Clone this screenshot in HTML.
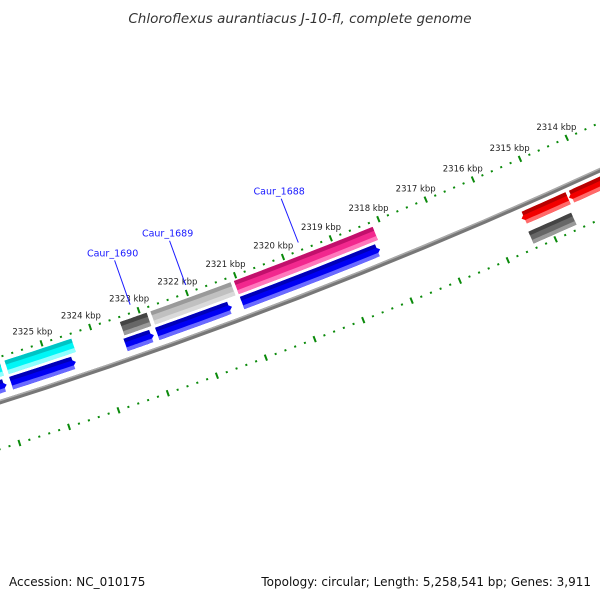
<!DOCTYPE html>
<html><head><meta charset="utf-8">
<style>
html,body{margin:0;padding:0;background:#fff;}
svg{display:block;font-family:"DejaVu Sans","Liberation Sans",sans-serif;}
</style></head>
<body>
<svg id="map" width="600" height="600" viewBox="0 0 600 600" xmlns="http://www.w3.org/2000/svg">
<rect width="600" height="600" fill="#fff"/>
<text x="300" y="23" text-anchor="middle" font-size="13.5" font-style="italic" fill="#333">Chloroflexus aurantiacus J-10-fl, complete genome</text>
<g id="layer"></g>
<text x="9" y="586" font-size="12" fill="#111">Accession: NC_010175</text>
<text x="591" y="586" text-anchor="end" font-size="12" fill="#111">Topology: circular; Length: 5,258,541 bp; Genes: 3,911</text>
</svg>
<script>
// data (kbp)
const tickKbp = [2312,2313,2314,2315,2316,2317,2318,2319,2320,2321,2322,2323,2324,2325,2326,2327,2328];
const labelKbp = [2314,2315,2316,2317,2318,2319,2320,2321,2322,2323,2324,2325];
const featName = ['pink','blue-b','lightgrey','blue-c','darkgrey','blue-d','cyan-b','blue-e','blue-f','red-a','red-b','grey-r'];
const featStart = [2318.16,2321.27,2321.13,2322.88,2322.87,2324.48,2324.42,2325.89,2325.89,2314.46,2312.5,2314.52];
const featEnd   = [2321.06,2322.81,2322.79,2323.46,2323.42,2325.80,2325.79,2328.5,2328.5,2315.44,2314.44,2315.42];
const featRow = [1,0,1,0,1,0,1,1,0,2,2,3];
const featArrow = [0,1,0,1,0,1,0,0,1,-1,-1,0];
const featColor = ['pink','blue','lightgrey','blue','darkgrey','blue','cyan','cyan','blue','red','red','darkgrey'];
const blueMainStart = [2318.19];
const blueMainEnd = [2321.06];
const geneLabels = ['Caur_1688','Caur_1689','Caur_1690'];
const geneLabelKbp = [2319.62,2321.97,2323.12];

// geometry
const R = 5200, PX_PER_KBP = 51.3, REF_KBP = 2320;
const T0 = [283,257], tv = [0.9331,-0.3597], nv = [0.3597,0.9331];
const C = [T0[0]-R*nv[0], T0[1]-R*nv[1]];
function uOf(k){return (REF_KBP-k)*PX_PER_KBP;}
function P(u,v){const f=u/R, r=R+v, c=Math.cos(f), s=Math.sin(f);
  return [C[0]+r*(nv[0]*c+tv[0]*s), C[1]+r*(nv[1]*c+tv[1]*s)];}
const rows = [[22,35],[5,19],[49,62],[70,83]];
const pal = {
 blue:['#0000b8','#0000f4','#6a6aff'], pink:['#c2106c','#f2288e','#ff78bc'],
 cyan:['#00c4c4','#00f6f6','#90ffff'], lightgrey:['#9a9a9a','#c0c0c0','#dadada'],
 darkgrey:['#444','#676767','#9a9a9a'], red:['#b80000','#f20000','#ff6a6a']
};
const NS='http://www.w3.org/2000/svg', layer=document.getElementById('layer');
function mk(tag,attrs){const e=document.createElementNS(NS,tag);for(const k in attrs)e.setAttribute(k,attrs[k]);layer.appendChild(e);return e;}
function arcPts(u0,u1,v){const pts=[],n=12;for(let i=0;i<=n;i++){pts.push(P(u0+(u1-u0)*i/n,v));}return pts;}
function band(u0,u1,v0,v1,dir,headLen){
  let a=u0,b=u1,pts=[];
  const vm=(v0+v1)/2;
  if(dir===1){ b=u1-headLen; pts=pts.concat(arcPts(a,b,v0)); pts.push(P(u1,vm)); pts=pts.concat(arcPts(b,a,v1)); }
  else if(dir===-1){ a=u0+headLen; pts=pts.concat(arcPts(a,b,v0)); pts=pts.concat(arcPts(b,a,v1)); pts.push(P(u0,vm)); }
  else { pts=pts.concat(arcPts(a,b,v0)); pts=pts.concat(arcPts(b,a,v1)); }
  return pts.map(p=>p[0].toFixed(1)+','+p[1].toFixed(1)).join(' ');
}
function strip(u0,u1,v0,v1,dir,headLen,full0,full1){
  const vm=(full0+full1)/2;
  let a=u0,b=u1;
  const frac=v=>1-Math.abs(v-vm)/((full1-full0)/2);
  if(dir===1){ b=u1-headLen*(1-Math.max(frac(v0),frac(v1))); }
  if(dir===-1){ a=u0+headLen*(1-Math.max(frac(v0),frac(v1))); }
  return band(a,b,v0,v1,0,0);
}

// backbone
const bb = mk('polygon',{points:band(-400,400,41,45.5,0,0),fill:'#777'});


const bb2 = mk('polygon',{points:band(-400,400,41,42.5,0,0),fill:'#aaa'});



// ticks on both rings
[0,88].forEach((rv,ri)=>{
  tickKbp.forEach(k=>{
    for(let m=0;m<5;m++){
      const kk=k+m*0.2, u=uOf(kk);
      const major=(m===0), h=major?3.2:1;
      const p0=P(u,rv-h), p1=P(u,rv+h);
      const ln=mk('line',{x1:p0[0],y1:p0[1],x2:p1[0],y2:p1[1],stroke:'#0a8a0a','stroke-width':2});
      
      
    }
  });
});
labelKbp.forEach(k=>{
  const p=P(uOf(k)-5,-14);
  const t=mk('text',{x:p[0].toFixed(1),y:(p[1]+3).toFixed(1),'text-anchor':'middle','font-size':'8.5',fill:'#222'});
  t.textContent=k+' kbp';
  
  
});

function drawFeature(nm,ks,ke,row,dir,col){
  const u0=Math.min(uOf(ks),uOf(ke)), u1=Math.max(uOf(ks),uOf(ke));
  if(u1-u0<1)return;
  const r=rows[row], c=pal[col], hl=7;
  const g=document.createElementNS(NS,'g');
  layer.appendChild(g);
  
  
  const main=document.createElementNS(NS,'polygon');
  main.setAttribute('points',band(u0,u1,r[0],r[1],dir,hl)); main.setAttribute('fill',c[1]); g.appendChild(main);
  const h=r[1]-r[0];
  const top=document.createElementNS(NS,'polygon');
  top.setAttribute('points',strip(u0,u1,r[0],r[0]+h*0.3,dir,hl,r[0],r[1])); top.setAttribute('fill',c[0]); g.appendChild(top);
  const bot=document.createElementNS(NS,'polygon');
  bot.setAttribute('points',strip(u0,u1,r[1]-h*0.3,r[1],dir,hl,r[0],r[1])); bot.setAttribute('fill',c[2]); g.appendChild(bot);
}
blueMainStart.forEach((s,i)=>drawFeature('blue-a',s,blueMainEnd[i],0,1,'blue'));
featName.forEach((nm,i)=>drawFeature(nm,featStart[i],featEnd[i],featRow[i],featArrow[i],featColor[i]));

// gene labels
geneLabels.forEach((nm,i)=>{
  const u=uOf(geneLabelKbp[i]);
  const a=P(u,-8), b=P(u,-55);
  const ln=mk('line',{x1:a[0],y1:a[1],x2:b[0],y2:b[1],stroke:'#1a1aff','stroke-width':1});
  
  
  const t=mk('text',{x:(b[0]-2).toFixed(1),y:(b[1]-4).toFixed(1),'text-anchor':'middle','font-size':'9.5',fill:'#1a1aff'});
  t.textContent=nm;
  
  
});
</script>
</body></html>
